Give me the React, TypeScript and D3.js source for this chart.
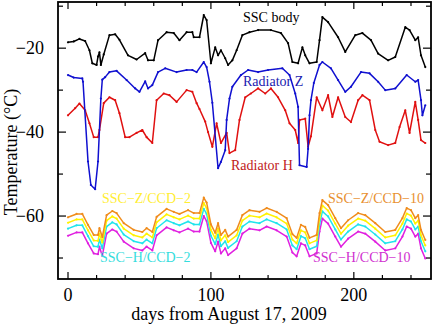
import React from "react";
import * as d3 from "d3";

const W = 436, H = 325;
const M = { left: 58, right: 431, top: 2, bottom: 279 };

const bodyDays = [0,4,8,12,15,17,20,21,22,23,25,29,33,36,42,48,54,56,60,63,69,74,78,83,87,88,92,95,97,100,103,105,107,110,112,115,118,122,127,133,142,149,154,157,161,164,166,169,174,176,178,182,189,194,201,206,212,217,224,229,236,239,243,245,247,250];
const bodyTemp = [-18.6,-18.4,-17.8,-18.3,-20.5,-23.6,-24.0,-22.0,-21.0,-24.0,-21.5,-16.9,-16.7,-18.0,-21.7,-22.7,-21.2,-22.9,-22.9,-18.1,-16.2,-16.4,-18.1,-16.2,-16.2,-17.4,-17.4,-12.1,-13.3,-23.6,-19.8,-21.7,-20.5,-22.4,-24.0,-22.9,-20.5,-16.9,-16.2,-15.7,-15.7,-16.4,-18.8,-23.3,-23.6,-19.8,-21.7,-23.6,-23.3,-18.1,-12.6,-13.8,-17.4,-20.9,-16.9,-16.4,-18.1,-21.3,-22.9,-22.1,-15.0,-15.7,-18.1,-17.4,-21.7,-24.5];

const radZDays = [0,4,10,10.5,14,16,19,21,23,24,26,29,34,41,47,50,54,56,59,63,68,76,83,87,90,95,97,99,101,105,107,110,111,113,115,121,126,133,140,150,155,159,161,162,167,168,169,170,172,176,178,184,189,194,198,205,211,217,222,229,237,243,245,247,248,250];
const radZTemp = [-26.4,-27.0,-27.2,-28.0,-47.0,-52.6,-53.6,-47.0,-32.0,-27.5,-26.9,-25.7,-25.4,-27.6,-29.6,-30.4,-27.9,-29.6,-28.8,-25.7,-24.8,-25.7,-25.2,-25.2,-25.7,-23.3,-24.5,-28.0,-33.0,-48.6,-47.1,-44.3,-37.1,-32.0,-29.2,-26.4,-25.2,-25.7,-25.2,-24.8,-26.4,-30.8,-34.0,-47.9,-48.3,-44.0,-36.0,-32.4,-28.3,-24.0,-23.3,-24.8,-27.6,-30.4,-29.2,-25.7,-26.0,-28.0,-30.0,-29.6,-26.4,-28.0,-27.6,-32.4,-36.0,-33.6];

const radHDays = [0,5,8,12,15,18,21,22,25,29,33,36,40,43,48,52,55,59,62,67,71,76,83,87,90,92,96,98,101,104,107,111,113,117,120,124,128,133,138,142,147,152,155,159,161,162,166,168,170,174,178,182,185,189,194,198,203,206,211,215,218,224,229,232,236,239,243,245,247,250];
const radHTemp = [-36.0,-34.3,-33.2,-34.8,-37.9,-41.2,-41.2,-39.5,-33.1,-31.7,-32.4,-35.5,-41.2,-41.2,-40.2,-39.5,-41.2,-42.6,-32.4,-30.8,-31.2,-32.8,-30.0,-30.4,-33.1,-34.5,-37.5,-40.0,-43.5,-37.9,-42.6,-40.2,-45.0,-44.3,-37.1,-31.7,-30.8,-29.6,-30.8,-29.6,-31.7,-34.8,-37.9,-39.5,-42.6,-37.1,-36.8,-43.5,-41.0,-31.7,-34.8,-31.2,-36.4,-31.7,-36.4,-37.6,-32.4,-31.2,-32.4,-39.5,-42.3,-43.1,-42.6,-38.8,-34.8,-40.2,-32.8,-37.1,-41.9,-42.6];

const ccdDays = [0,6,10,14,18,21,22,24,27,31,34,39,46,52,55,59,62,69,74,78,84,88,92,95,97,100,103,105,107,110,112,118,122,127,134,139,146,153,157,160,163,166,169,174,176,178,182,187,191,196,203,208,215,222,229,234,237,240,243,245,247,250];
const ccdZ10 = [-60.3,-59.5,-59.5,-62.1,-64.5,-64.5,-62.9,-65.0,-59.8,-58.8,-59.3,-61.7,-63.3,-63.8,-62.9,-63.8,-60.2,-58.3,-59.0,-59.5,-58.6,-59.3,-59.3,-55.6,-56.8,-62.0,-64.0,-61.7,-64.5,-63.3,-64.9,-63.3,-59.8,-58.6,-59.0,-58.1,-59.0,-60.5,-64.3,-65.2,-62.1,-62.6,-65.2,-64.5,-59.3,-56.2,-57.4,-60.5,-62.9,-61.0,-59.3,-59.8,-61.7,-63.8,-63.3,-60.5,-58.1,-58.6,-60.5,-59.8,-63.3,-65.7];
const ccdZ2 = [-61.6,-60.8,-60.8,-63.4,-65.8,-65.9,-64.2,-66.3,-61.1,-60.1,-60.6,-63.0,-64.6,-65.1,-64.2,-65.1,-61.5,-59.6,-60.3,-60.8,-59.9,-60.6,-60.6,-56.9,-58.1,-63.3,-65.3,-63.0,-65.8,-64.6,-66.2,-64.6,-61.1,-59.9,-60.3,-59.4,-60.3,-61.8,-65.6,-66.5,-63.4,-63.9,-66.5,-65.8,-60.6,-57.5,-58.7,-61.8,-64.2,-62.3,-60.6,-61.1,-63.0,-65.1,-64.6,-61.8,-59.4,-59.9,-61.8,-61.1,-64.6,-67.0];
const ccdH2 = [-63.0,-62.2,-62.2,-64.8,-67.2,-67.3,-65.6,-67.7,-62.5,-61.5,-62.0,-64.4,-66.0,-66.5,-65.6,-66.5,-62.9,-61.0,-61.7,-62.2,-61.3,-62.0,-62.0,-58.3,-59.5,-64.7,-66.7,-64.4,-67.2,-66.0,-67.6,-66.0,-62.5,-61.3,-61.7,-60.8,-61.7,-63.2,-67.0,-67.9,-64.8,-65.3,-67.9,-67.2,-62.0,-58.9,-60.1,-63.2,-65.6,-63.7,-62.0,-62.5,-64.4,-66.5,-66.0,-63.2,-60.8,-61.3,-63.2,-62.5,-66.0,-68.4];
const ccdH10 = [-64.7,-63.9,-63.9,-66.5,-68.9,-69.1,-67.3,-69.5,-64.2,-63.2,-63.7,-66.1,-67.7,-68.2,-67.3,-68.2,-64.6,-62.7,-63.4,-63.9,-63.0,-63.7,-63.7,-60.0,-61.2,-66.4,-68.4,-66.1,-68.9,-67.7,-69.3,-67.7,-64.2,-63.0,-63.4,-62.5,-63.4,-64.9,-68.7,-69.6,-66.5,-67.0,-69.6,-68.9,-63.7,-60.6,-61.8,-64.9,-67.3,-65.4,-63.7,-64.2,-66.1,-68.2,-67.7,-64.9,-62.5,-63.0,-64.9,-64.2,-67.7,-70.1];

const xMajor = [0, 100, 200];
const xMinor = [20, 40, 60, 80, 120, 140, 160, 180, 220, 240];
const yMajor = [-20, -40, -60];
const yMinor = [-10, -30, -50, -70];

const FONT = "'Liberation Serif', 'DejaVu Serif', serif";

export default function App() {
  const x = d3.scaleLinear().domain([-7, 254]).range([M.left, M.right]);
  const y = d3.scaleLinear().domain([-75, -9]).range([M.bottom, M.top]);
  const line = (days: number[], vals: number[]) =>
    d3.line<number>().x((_, i) => x(days[i])).y((v) => y(v))(vals) || "";

  const series = [
    { d: ccdDays, v: ccdH10, c: "#e020e0" },
    { d: ccdDays, v: ccdH2, c: "#20e4ec" },
    { d: ccdDays, v: ccdZ2, c: "#fff200" },
    { d: ccdDays, v: ccdZ10, c: "#f08c1c" },
    { d: radHDays, v: radHTemp, c: "#e01010" },
    { d: radZDays, v: radZTemp, c: "#1010d0" },
    { d: bodyDays, v: bodyTemp, c: "#000000" },
  ];

  const labels = [
    { t: "SSC body", x: 243, y: 22, c: "#000000" },
    { t: "Radiator Z", x: 243, y: 86, c: "#2020b0" },
    { t: "Radiator H", x: 231, y: 170, c: "#c02020" },
    { t: "SSC\u2212Z/CCD\u22122", x: 102, y: 203, c: "#ffee33" },
    { t: "SSC\u2212H/CCD\u22122", x: 100, y: 262, c: "#33dddd" },
    { t: "SSC\u2212Z/CCD\u221210", x: 328, y: 203, c: "#e89030" },
    { t: "SSC\u2212H/CCD\u221210", x: 313, y: 262, c: "#d030d0" },
  ];

  return (
    <svg width={W} height={H} style={{ position: "absolute", left: 0, top: 0, background: "#fff" }}>
      <g fill="none" strokeLinejoin="round">
        {series.map((s, i) => (
          <g key={i}>
            <path d={line(s.d, s.v)} stroke={s.c} strokeWidth={1.5} />
            {s.v.map((v, j) => (
              <circle key={j} cx={x(s.d[j])} cy={y(v)} r={1.1} fill={s.c} stroke="none" />
            ))}
          </g>
        ))}
      </g>
      <g fontFamily={FONT} fontSize={14}>
        {labels.map((l, i) => (
          <text key={i} x={l.x} y={l.y} fill={l.c}>{l.t}</text>
        ))}
      </g>
      <rect x={M.left} y={M.top} width={M.right - M.left} height={M.bottom - M.top} fill="none" stroke="#000" strokeWidth={1.8} />
      <g stroke="#000" strokeWidth={1.2}>
        {xMajor.map((v) => (
          <g key={"xM" + v}>
            <line x1={x(v)} x2={x(v)} y1={M.bottom} y2={M.bottom - 7} />
            <line x1={x(v)} x2={x(v)} y1={M.top} y2={M.top + 7} />
          </g>
        ))}
        {xMinor.map((v) => (
          <g key={"xm" + v}>
            <line x1={x(v)} x2={x(v)} y1={M.bottom} y2={M.bottom - 4} />
            <line x1={x(v)} x2={x(v)} y1={M.top} y2={M.top + 4} />
          </g>
        ))}
        {yMajor.map((v) => (
          <g key={"yM" + v}>
            <line x1={M.left} x2={M.left + 8} y1={y(v)} y2={y(v)} />
            <line x1={M.right} x2={M.right - 8} y1={y(v)} y2={y(v)} />
          </g>
        ))}
        {yMinor.map((v) => (
          <g key={"ym" + v}>
            <line x1={M.left} x2={M.left + 5} y1={y(v)} y2={y(v)} />
            <line x1={M.right} x2={M.right - 5} y1={y(v)} y2={y(v)} />
          </g>
        ))}
      </g>
      <g fontFamily={FONT} fontSize={18} fill="#000">
        {xMajor.map((v) => (
          <text key={"xl" + v} x={x(v)} y={301} textAnchor="middle">{String(v)}</text>
        ))}
        {yMajor.map((v) => (
          <text key={"yl" + v} x={44} y={y(v) + 6} textAnchor="end">{"\u2212" + Math.abs(v)}</text>
        ))}
        <text x={229} y={320} textAnchor="middle">days from August 17, 2009</text>
        <text transform={`translate(17,152) rotate(-90)`} textAnchor="middle">Temperature (°C)</text>
      </g>
    </svg>
  );
}
